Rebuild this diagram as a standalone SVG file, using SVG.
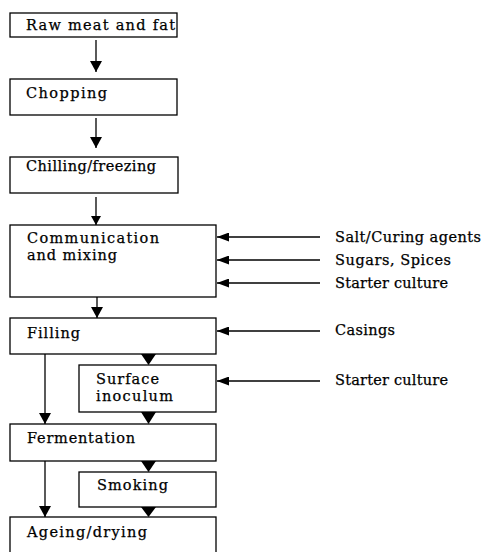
<svg xmlns="http://www.w3.org/2000/svg" width="481" height="552" viewBox="0 0 481 552">
<style>
.box{fill:#fff;stroke:#000;stroke-width:1.3}
.t{font-family:"DejaVu Serif","Liberation Serif",serif;font-size:14.5px;fill:#000;stroke:#000;stroke-width:0.25}
.ln{stroke:#000;stroke-width:1.3;fill:none}
</style>
<defs>
<marker id="ah" viewBox="0 0 11 12" refX="11" refY="6" markerWidth="11" markerHeight="12" markerUnits="userSpaceOnUse" orient="auto">
<path d="M0,0 L11,6 L0,12 Z" fill="#000"/>
</marker>
<marker id="ahs" viewBox="0 0 9 10" refX="9" refY="5" markerWidth="9" markerHeight="10" markerUnits="userSpaceOnUse" orient="auto">
<path d="M0,0 L9,5 L0,10 Z" fill="#000"/>
</marker>
<marker id="ahr" viewBox="0 0 12 9" refX="12" refY="4.5" markerWidth="12" markerHeight="9" markerUnits="userSpaceOnUse" orient="auto">
<path d="M0,0 L12,4.5 L0,9 Z" fill="#000"/>
</marker>
</defs>
<rect width="481" height="552" fill="#fff"/>
<g id="connectors">
<line class="ln" x1="96" y1="40" x2="96" y2="72" marker-end="url(#ah)"/>
<line class="ln" x1="96" y1="118" x2="96" y2="148" marker-end="url(#ah)"/>
<line class="ln" x1="96" y1="197" x2="96" y2="225" marker-end="url(#ahs)"/>
<line class="ln" x1="97" y1="297" x2="97" y2="318" marker-end="url(#ah)"/>
<path d="M141,354 L156,354 L148.5,365 Z" fill="#000"/>
<path d="M141,412 L156,412 L148.5,424 Z" fill="#000"/>
<path d="M141,461 L156,461 L148.5,472 Z" fill="#000"/>
<path d="M141,507 L156,507 L148.5,517 Z" fill="#000"/>
<line class="ln" x1="45" y1="354" x2="45" y2="424" marker-end="url(#ah)"/>
<line class="ln" x1="45" y1="461" x2="45" y2="517" marker-end="url(#ah)"/>
<line class="ln" x1="320" y1="237" x2="217" y2="237" marker-end="url(#ahr)"/>
<line class="ln" x1="320" y1="260" x2="217" y2="260" marker-end="url(#ahr)"/>
<line class="ln" x1="320" y1="283" x2="217" y2="283" marker-end="url(#ahr)"/>
<line class="ln" x1="320" y1="331" x2="217" y2="331" marker-end="url(#ahr)"/>
<line class="ln" x1="320" y1="381" x2="217" y2="381" marker-end="url(#ahr)"/>
</g>
<g id="raw"><rect class="box" x="10" y="13" width="167" height="24"/><text class="t" x="26" y="30" textLength="149" lengthAdjust="spacing">Raw meat and fat</text></g>
<g id="chopping"><rect class="box" x="10" y="79" width="167" height="36"/><text class="t" x="26" y="98" textLength="81" lengthAdjust="spacing">Chopping</text></g>
<g id="chilling"><rect class="box" x="10" y="157" width="168" height="36"/><text class="t" x="26" y="171" textLength="130" lengthAdjust="spacing">Chilling/freezing</text></g>
<g id="mixing"><rect class="box" x="10" y="225" width="206" height="72"/><text class="t" x="27" y="243" textLength="132" lengthAdjust="spacing">Communication</text><text class="t" x="27" y="260" textLength="90" lengthAdjust="spacing">and mixing</text></g>
<g id="filling"><rect class="box" x="10" y="318" width="206" height="36"/><text class="t" x="27" y="338" textLength="53" lengthAdjust="spacing">Filling</text></g>
<g id="surface"><rect class="box" x="79" y="365" width="137" height="47"/><text class="t" x="96" y="384" textLength="63" lengthAdjust="spacing">Surface</text><text class="t" x="96" y="401" textLength="77" lengthAdjust="spacing">inoculum</text></g>
<g id="fermentation"><rect class="box" x="10" y="424" width="206" height="37"/><text class="t" x="27" y="443" textLength="108" lengthAdjust="spacing">Fermentation</text></g>
<g id="smoking"><rect class="box" x="79" y="472" width="137" height="35"/><text class="t" x="97" y="490" textLength="71" lengthAdjust="spacing">Smoking</text></g>
<g id="ageing"><rect class="box" x="10" y="517" width="206" height="45"/><text class="t" x="27" y="537" textLength="120" lengthAdjust="spacing">Ageing/drying</text></g>
<g id="inputs">
<text class="t" x="335" y="242" textLength="146" lengthAdjust="spacing">Salt/Curing agents</text>
<text class="t" x="335" y="265" textLength="116" lengthAdjust="spacing">Sugars, Spices</text>
<text class="t" x="335" y="288" textLength="113" lengthAdjust="spacing">Starter culture</text>
<text class="t" x="335" y="335" textLength="60" lengthAdjust="spacing">Casings</text>
<text class="t" x="335" y="385" textLength="113" lengthAdjust="spacing">Starter culture</text>
</g>
</svg>
